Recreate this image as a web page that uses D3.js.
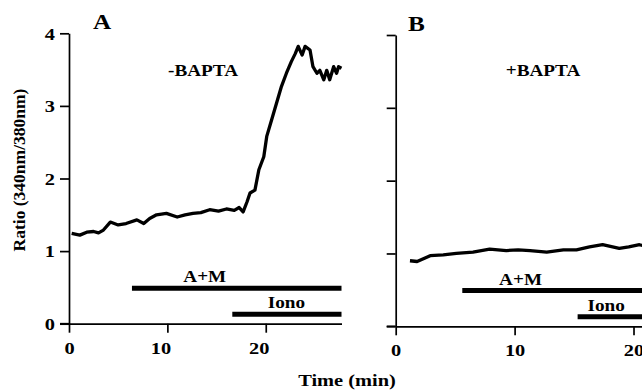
<!DOCTYPE html>
<html>
<head>
<meta charset="utf-8">
<script src="https://cdn.jsdelivr.net/npm/d3@7"></script>
<style>
  html, body { margin: 0; padding: 0; background: #fff; }
  svg { display: block; font-family: "Liberation Serif", "DejaVu Serif", serif; font-weight: bold; }
  .axis path, .axis line { stroke: #000; stroke-width: 1.7; }
  .axis text { font-family: "Liberation Serif", serif; font-weight: bold; font-size: 17px; fill: #000; }
</style>
</head>
<body>
<div id="chart"></div>
<script>
// Trace A (-BAPTA): time in min, 340/380 ratio
const timeA = [0.27, 1.1, 1.8, 2.5, 3.0, 3.5, 4.2, 5.0, 5.8, 6.9, 7.6, 8.2, 8.9, 9.9, 11.0, 11.8, 12.6, 13.4, 14.3,
  15.2, 16.0, 16.8, 17.3, 17.7, 18.1, 18.4, 18.9, 19.3, 19.8, 20.1, 20.6, 21.1, 21.6, 22.1, 22.6, 23.0, 23.3,
  23.7, 24.0, 24.5, 24.8, 25.2, 25.5, 25.9, 26.2, 26.5, 26.9, 27.2, 27.4, 27.7];
const ratioA = [1.245, 1.22, 1.26, 1.27, 1.25, 1.29, 1.40, 1.36, 1.38, 1.43, 1.38, 1.45, 1.50, 1.52, 1.47, 1.50, 1.52, 1.53, 1.57,
  1.55, 1.58, 1.56, 1.60, 1.54, 1.68, 1.80, 1.84, 2.12, 2.30, 2.58, 2.81, 3.04, 3.27, 3.45, 3.61, 3.72, 3.82,
  3.70, 3.82, 3.77, 3.54, 3.45, 3.49, 3.36, 3.49, 3.36, 3.54, 3.45, 3.54, 3.52];

// Trace B (+BAPTA)
const timeB = [1.2, 1.8, 2.9, 4.0, 5.1, 6.5, 7.9, 9.3, 10.3, 11.3, 12.7, 14.1, 15.2, 16.3, 17.4, 18.8, 19.6, 20.5, 21.0];
const ratioB = [0.90, 0.89, 0.97, 0.98, 1.00, 1.02, 1.06, 1.04, 1.05, 1.04, 1.02, 1.05, 1.05, 1.09, 1.12, 1.07, 1.09, 1.12, 1.10];

// Drug application bars: [start, end] min, drawn at a ratio level
const barNames = ["A+M", "Iono"];
const barLevel = [0.49, 0.13];
const barsA = [[6.4, 27.7], [16.6, 27.7]];
const barsB = [[5.6, 21], [15.3, 21]];

const yTicks = [0, 1, 2, 3, 4];
const xTicks = [0, 10, 20];

const W = 642, H = 392;
const SX = 1.2; // the scanned lettering is a little wide
const svg = d3.select("#chart").append("svg").attr("width", W).attr("height", H);

function label(parent, x, y, size, str, anchor) {
  return parent.append("text")
    .attr("transform", `translate(${x},${y}) scale(${SX},1)`)
    .attr("text-anchor", anchor || "middle").attr("font-size", size).text(str);
}

function panel(o) {
  const x = d3.scaleLinear(o.xDomain, o.xRange);
  const y = d3.scaleLinear([0, 4], o.yRange);
  const g = svg.append("g");

  const ya = g.append("g").attr("class", "axis")
    .attr("transform", `translate(${x(0)},0)`)
    .call(d3.axisLeft(y).tickValues(yTicks).tickSize(9).tickSizeOuter(0)
      .tickFormat(o.yLabels ? d3.format("d") : ""));
  ya.selectAll(".tick text").attr("x", null).attr("dy", "0.34em")
    .attr("transform", `translate(-14,0) scale(${SX},1)`);

  const xa = g.append("g").attr("class", "axis")
    .attr("transform", `translate(0,${y(0)})`)
    .call(d3.axisBottom(x).tickValues(xTicks).tickSize(9).tickSizeOuter(0).tickFormat(d3.format("d")));
  xa.selectAll(".tick text").attr("y", null).attr("dy", null)
    .attr("transform", (d) => `translate(${d ? o.xLabelDx : 0},30) scale(${SX},1)`);

  // baseline runs left to meet the y tick at 0
  g.append("line").attr("x1", x(0) - 9).attr("x2", x(0)).attr("y1", y(0)).attr("y2", y(0))
    .attr("stroke", "#000").attr("stroke-width", 1.7);

  const line = d3.line().x((d) => x(d[0])).y((d) => y(d[1]));
  g.append("path").datum(o.t.map((t, i) => [t, o.v[i]]))
    .attr("fill", "none").attr("stroke", "#000").attr("stroke-width", 3.3)
    .attr("stroke-linejoin", "round").attr("d", line);

  o.bars.forEach((b, i) => {
    g.append("line").attr("x1", x(b[0])).attr("x2", x(b[1]))
      .attr("y1", y(barLevel[i])).attr("y2", y(barLevel[i]))
      .attr("stroke", "#000").attr("stroke-width", 5);
    label(g, x(o.barLabelX[i]), y(barLevel[i]) - 6, 16, barNames[i]);
  });

  label(g, o.letterX, o.letterY, 21, o.letter, "start");
  label(g, o.condX, 76, 16, o.cond);
}

panel({ xDomain: [0, 27.7], xRange: [69, 341.5], yRange: [323.7, 33.3], yLabels: true, xLabelDx: -7,
  t: timeA, v: ratioA, bars: barsA, barLabelX: [13.8, 22.1],
  letter: "A", letterX: 93, letterY: 29, cond: "-BAPTA", condX: 203 });
panel({ xDomain: [0, 21], xRange: [395.7, 645.4], yRange: [326.3, 35], yLabels: false, xLabelDx: 0,
  t: timeB, v: ratioB, bars: barsB, barLabelX: [10.5, 17.7],
  letter: "B", letterX: 408, letterY: 31, cond: "+BAPTA", condX: 543 });

label(svg, 347, 386, 17, "Time (min)");
svg.append("text").attr("transform", "translate(25,170) rotate(-90)").attr("text-anchor", "middle")
  .attr("font-size", 17.5).text("Ratio (340nm/380nm)");
</script>
</body>
</html>
